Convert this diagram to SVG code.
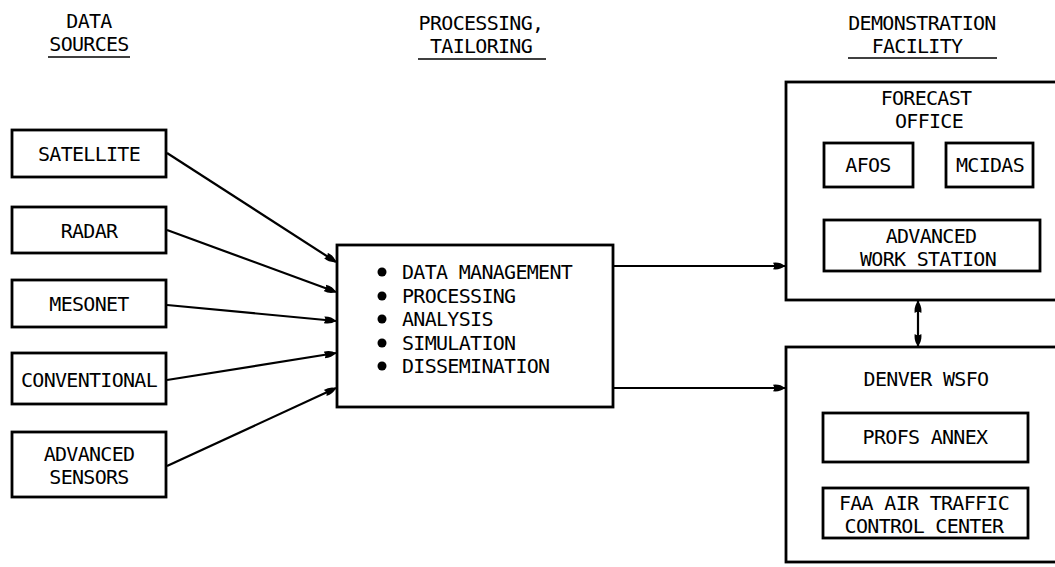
<svg xmlns="http://www.w3.org/2000/svg" width="1055" height="567" viewBox="0 0 1055 567">
<style>
text{font-family:"DejaVu Sans Mono","Liberation Mono",monospace;font-size:20px;letter-spacing:-0.7px;fill:#000}
.c{text-anchor:middle}
.box{fill:none;stroke:#000;stroke-width:2.8}
.ul{stroke:#000;stroke-width:1.6}
.conn line{stroke:#000;stroke-width:2.2;fill:none}
</style>
<defs>
<marker id="ah" markerUnits="userSpaceOnUse" markerWidth="13" markerHeight="9" refX="12" refY="4.5" orient="auto-start-reverse">
<path d="M0,1.2 Q7,0.3 12,4.5 Q7,8.7 0,7.8 Q2.5,4.5 0,1.2 Z" fill="#000"/>
</marker>
</defs>
<rect width="1055" height="567" fill="#fff"/>
<g id="headers">
<text class="c" x="89" y="28">DATA</text>
<text class="c" x="89" y="51">SOURCES</text>
<line class="ul" x1="48" y1="57" x2="130" y2="57"/>
<text class="c" x="481" y="30">PROCESSING,</text>
<text class="c" x="481" y="53">TAILORING</text>
<line class="ul" x1="418" y1="59" x2="546" y2="59"/>
<text class="c" x="922" y="30">DEMONSTRATION</text>
<text class="c" x="917" y="53">FACILITY</text>
<line class="ul" x1="848" y1="58" x2="997" y2="58"/>
</g>
<g id="satellite"><rect class="box" x="12" y="130" width="154" height="47"/><text class="c" x="89" y="161">SATELLITE</text></g>
<g id="radar"><rect class="box" x="12" y="207" width="154" height="46"/><text class="c" x="89" y="237.5">RADAR</text></g>
<g id="mesonet"><rect class="box" x="12" y="280" width="154" height="47"/><text class="c" x="89" y="311">MESONET</text></g>
<g id="conventional"><rect class="box" x="12" y="353" width="154" height="51"/><text class="c" x="89" y="386.5">CONVENTIONAL</text></g>
<g id="advanced-sensors"><rect class="box" x="12" y="432" width="154" height="65"/><text class="c" x="89" y="461">ADVANCED</text><text class="c" x="89" y="484">SENSORS</text></g>
<g id="processing">
<rect class="box" x="337" y="245" width="276" height="162"/>
<circle cx="382" cy="272" r="4.5"/><text x="402" y="279">DATA MANAGEMENT</text>
<circle cx="382" cy="296" r="4.5"/><text x="402" y="303">PROCESSING</text>
<circle cx="382" cy="319" r="4.5"/><text x="402" y="326">ANALYSIS</text>
<circle cx="382" cy="343" r="4.5"/><text x="402" y="350">SIMULATION</text>
<circle cx="382" cy="366" r="4.5"/><text x="402" y="373">DISSEMINATION</text>
</g>
<g id="forecast-office">
<rect class="box" x="786" y="82" width="290" height="218"/>
<text class="c" x="926" y="105">FORECAST</text>
<text class="c" x="929" y="128">OFFICE</text>
</g>
<g id="afos"><rect class="box" x="824" y="143" width="89" height="44"/><text class="c" x="868" y="172">AFOS</text></g>
<g id="mcidas"><rect class="box" x="946" y="143" width="87" height="44"/><text class="c" x="990" y="172">MCIDAS</text></g>
<g id="advanced-work-station"><rect class="box" x="824" y="220" width="216" height="51"/><text class="c" x="931" y="243">ADVANCED</text><text class="c" x="928" y="266">WORK STATION</text></g>
<g id="denver-wsfo">
<rect class="box" x="786" y="347" width="290" height="215"/>
<text class="c" x="926" y="386">DENVER WSFO</text>
</g>
<g id="profs-annex"><rect class="box" x="823" y="413" width="205" height="49"/><text class="c" x="925" y="444">PROFS ANNEX</text></g>
<g id="faa-atcc"><rect class="box" x="823" y="488" width="205" height="50"/><text class="c" x="924" y="510">FAA AIR TRAFFIC</text><text class="c" x="924" y="533">CONTROL CENTER</text></g>
<g id="connectors" class="conn">
<line x1="167" y1="153" x2="336" y2="262" marker-end="url(#ah)"/>
<line x1="167" y1="230" x2="336" y2="292" marker-end="url(#ah)"/>
<line x1="167" y1="305" x2="336" y2="321" marker-end="url(#ah)"/>
<line x1="167" y1="380" x2="336" y2="353" marker-end="url(#ah)"/>
<line x1="167" y1="466" x2="336" y2="388" marker-end="url(#ah)"/>
<line x1="613" y1="266" x2="785" y2="266" marker-end="url(#ah)"/>
<line x1="613" y1="388" x2="785" y2="388" marker-end="url(#ah)"/>
<line x1="918" y1="301" x2="918" y2="346" marker-start="url(#ah)" marker-end="url(#ah)"/>
</g>
</svg>
